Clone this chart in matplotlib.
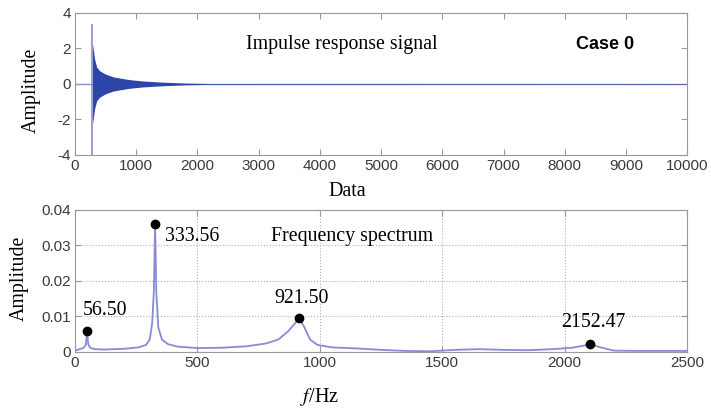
import numpy as np
import matplotlib
matplotlib.use('Agg')
from matplotlib import pyplot as plt

plt.rcParams['mathtext.fontset'] = 'stix'
plt.rcParams['axes.unicode_minus'] = False

# impulse response: envelope
sig_x = [286, 300, 320, 354, 400, 500, 625, 750, 900, 1100, 1440, 1800, 2200, 10000]
sig_env = [2.25, 1.9, 1.4, 0.95, 0.75, 0.55, 0.4, 0.32, 0.24, 0.17, 0.1, 0.05, 0.02, 0.015]
spike_x = 283
spike_lo, spike_hi = -4.0, 3.3

# spectrum curve
freq = [0, 20, 35, 44, 49, 54, 62, 80, 120, 200, 260, 290, 305, 315, 322, 327, 332, 340,
        355, 380, 420, 500, 600, 700, 780, 830, 870, 895, 915, 935, 960, 990, 1050, 1150,
        1250, 1350, 1450, 1550, 1650, 1750, 1850, 1950, 2030, 2080, 2104, 2140, 2200, 2300, 2500]
amp = [0.0004, 0.0008, 0.0012, 0.002, 0.0058, 0.0022, 0.0012, 0.0008, 0.0007, 0.0009, 0.0013,
       0.002, 0.0035, 0.008, 0.017, 0.036, 0.017, 0.007, 0.0035, 0.0022, 0.0015, 0.0011,
       0.0012, 0.0016, 0.0024, 0.0035, 0.0058, 0.0078, 0.0095, 0.0072, 0.0035, 0.002,
       0.0013, 0.001, 0.0006, 0.0003, 0.0002, 0.0006, 0.0008, 0.0006, 0.0005, 0.0008,
       0.0012, 0.0018, 0.0023, 0.0014, 0.0004, 0.0003, 0.0003]

peak_f = [49, 327, 915, 2104]
peak_a = [0.0059, 0.036, 0.0095, 0.0023]
peak_lbl = ['56.50', '333.56', '921.50', '2152.47']

dark_blue = '#2b45a8'
light_blue = '#8a8ad6'
spine_col = '#999999'
tick_font = 'Liberation Sans'
serif = 'Liberation Serif'

fig = plt.figure(figsize=(7.11, 4.13), dpi=100)
ax1 = fig.add_axes([0.1055, 0.6247, 0.861, 0.344])
ax2 = fig.add_axes([0.1055, 0.1477, 0.861, 0.344])

# top panel
ax1.axhline(0, color=light_blue, lw=1.0, zorder=1)
ax1.fill_between(sig_x, -np.array(sig_env), sig_env, color=dark_blue, lw=0, zorder=2)
ax1.plot([spike_x, spike_x], [spike_lo, spike_hi], color=light_blue, lw=1.2, zorder=3)
ax1.set_xlim(0, 10000)
ax1.set_ylim(-4, 4)
ax1.set_xticks(range(0, 10001, 1000))
ax1.set_yticks([-4, -2, 0, 2, 4])
ax1.set_ylabel('Amplitude', family=serif, fontsize=14.3, va='center')
ax1.yaxis.set_label_coords(-0.072, 0.454)
ax1.set_xlabel('Data', family=serif, fontsize=14.5, va='center')
ax1.xaxis.set_label_coords(0.445, -0.26)
ax1.text(0.436, 0.78, 'Impulse response signal', transform=ax1.transAxes,
         family=serif, fontsize=14.3, ha='center', va='center')
ax1.text(0.866, 0.78, 'Case 0', transform=ax1.transAxes,
         family=tick_font, fontsize=13, fontweight='bold', ha='center', va='center')

# bottom panel
ax2.plot(freq, amp, color=light_blue, lw=1.3, zorder=2)
ax2.plot(peak_f, peak_a, 'o', color='black', ms=6, zorder=3)
offs = [(-3, 15, 'left'), (7, -9, 'left'), (2, 14, 'center'), (2, 15, 'center')]
for f, a, s, o in zip(peak_f, peak_a, peak_lbl, offs):
    ax2.annotate(s, (f, a), xytext=o[:2], textcoords='offset points',
                 family=serif, fontsize=14.3, ha=o[2], va='center')
ax2.text(0.453, 0.81, 'Frequency spectrum', transform=ax2.transAxes,
         family=serif, fontsize=14.3, ha='center', va='center')
ax2.set_xlim(0, 2500)
ax2.set_ylim(0, 0.04)
ax2.set_xticks(range(0, 2501, 500))
ax2.set_yticks([0, 0.01, 0.02, 0.03, 0.04])
ax2.set_yticklabels(['0', '0.01', '0.02', '0.03', '0.04'])
ax2.grid(True, ls=':', color='#b0b0b0', lw=0.8)
ax2.set_ylabel('Amplitude', family=serif, fontsize=14.3, va='center')
ax2.yaxis.set_label_coords(-0.0915, 0.518)
ax2.set_xlabel(r'$f$/Hz', family=serif, fontsize=14.5, va='center')
ax2.xaxis.set_label_coords(0.399, -0.317)

for ax in (ax1, ax2):
    for sp in ax.spines.values():
        sp.set_color(spine_col)
    ax.tick_params(direction='in', top=True, right=True, color=spine_col,
                   labelsize=11, labelcolor='#3a3a3a', length=4, pad=3)
    for lab in ax.get_xticklabels() + ax.get_yticklabels():
        lab.set_family(tick_font)

fig.savefig('out.png', dpi=100)
